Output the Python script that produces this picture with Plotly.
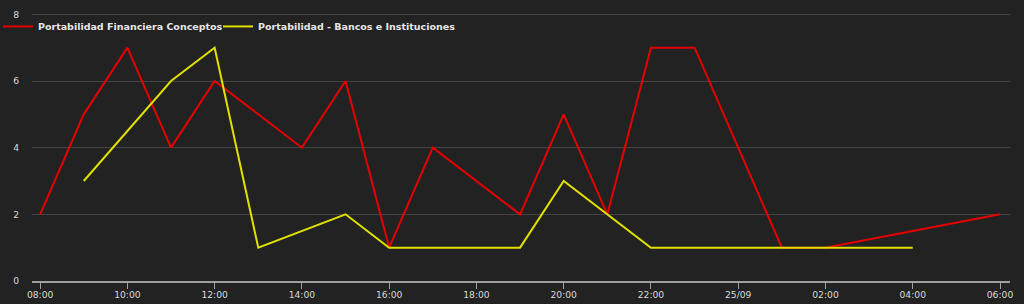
import plotly.graph_objects as go
import pandas as pd

hours = pd.date_range("2023-09-24 08:00", "2023-09-25 06:00", freq="h")

# Values per hour (None = no data, line is connected across gaps)
red_values = [2, 5, 7, 4, 6, 5, 4, 6, 1, 4, None, 2, 5, 2, 7, 7, 4, 1, 1, None, None, None, 2]
yellow_values = [None, 3, None, 6, 7, 1, None, 2, 1, 1, 1, 1, 3, 2, 1, 1, 1, 1, 1, 1, 1, None, None]

red_name = "Portabilidad Financiera Conceptos"
yellow_name = "Portabilidad - Bancos e Instituciones"

tick_times = pd.date_range("2023-09-24 08:00", "2023-09-25 06:00", freq="2h")
tick_labels = ["08:00", "10:00", "12:00", "14:00", "16:00", "18:00", "20:00", "22:00",
               "25/09", "02:00", "04:00", "06:00"]
y_ticks = [0, 2, 4, 6, 8]

BG = "#222222"
TXT = "#d8d9da"
legend_font = dict(family="DejaVu Sans", size=9.5, color="#e6e6e6", weight="bold")

fig = go.Figure()
fig.add_trace(go.Scatter(x=hours, y=red_values, name=red_name, mode="lines",
                         connectgaps=True, line=dict(color="#e60000", width=2),
                         legend="legend"))
fig.add_trace(go.Scatter(x=hours, y=yellow_values, name=yellow_name, mode="lines",
                         connectgaps=True, line=dict(color="#e0e000", width=2),
                         legend="legend2"))

fig.update_layout(
    width=1024, height=304,
    margin=dict(l=32, r=14, t=13, b=23, autoexpand=False),
    paper_bgcolor=BG, plot_bgcolor=BG,
    font=dict(family="DejaVu Sans", size=9.2, color=TXT),
    showlegend=True,
    legend=dict(orientation="h", x=-0.0348, y=1.004, xanchor="left", yanchor="top",
                bgcolor="rgba(0,0,0,0)", font=legend_font, itemwidth=30),
    legend2=dict(orientation="h", x=0.1902, y=1.004, xanchor="left", yanchor="top",
                 bgcolor="rgba(0,0,0,0)", font=legend_font, itemwidth=30),
    xaxis=dict(
        range=[pd.Timestamp("2023-09-24 07:48:50"), pd.Timestamp("2023-09-25 06:13:45")],
        tickvals=tick_times, ticktext=tick_labels,
        showgrid=False, zeroline=False, automargin=False,
        showline=True, linecolor="#a0a0a0", linewidth=2,
        ticks="outside", ticklen=6, tickcolor="#a0a0a0", tickwidth=1,
        ticklabelstandoff=-2,
        tickfont=dict(size=9.2, color=TXT),
    ),
    yaxis=dict(
        range=[0, 8.04], tickvals=y_ticks,
        showgrid=True, gridcolor="#444444", gridwidth=1,
        zeroline=False, showline=False, automargin=False,
        ticks="", ticklabelstandoff=12,
        tickfont=dict(size=9.2, color=TXT),
    ),
)

fig.write_html("out.html")
